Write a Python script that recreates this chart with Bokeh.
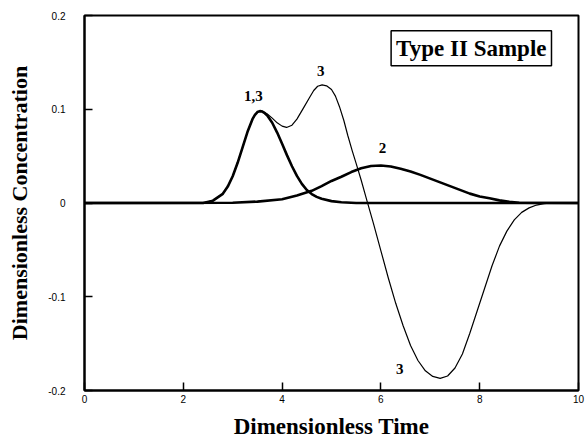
from bokeh.plotting import figure
from bokeh.models import FixedTicker, Label, ColumnDataSource
from bokeh.core.properties import value
from bokeh.embed import file_html
from bokeh.resources import INLINE

# Curve 1 (thick)
c1_x = [0, 2.4, 2.6, 2.8, 2.9, 3.0, 3.1, 3.2, 3.3, 3.4, 3.45, 3.5, 3.55, 3.6, 3.65, 3.7, 3.8, 3.9, 4.0,
        4.1, 4.2, 4.3, 4.4, 4.5, 4.6, 4.7, 4.8, 5.0, 5.2, 5.5, 10]
c1_y = [0, 0, 0.0025, 0.0098, 0.0175, 0.0285, 0.0429, 0.0594, 0.0759, 0.0894, 0.0940, 0.0970, 0.0980,
        0.0975, 0.0958, 0.0933, 0.0856, 0.0751, 0.0632, 0.0508, 0.0392, 0.0289, 0.0204, 0.0138, 0.0095,
        0.0065, 0.0045, 0.0020, 0.0008, 0, 0]

# Curve 2 (thick)
c2_x = [0, 3.0, 3.5, 4.0, 4.3, 4.6, 4.8, 5.0, 5.2, 5.4, 5.6, 5.8, 6.0, 6.2, 6.4, 6.6, 6.8, 7.0, 7.2,
        7.4, 7.6, 7.8, 8.0, 8.2, 8.4, 8.6, 8.8, 10]
c2_y = [0, 0.0003, 0.0015, 0.004, 0.008, 0.013, 0.018, 0.0235, 0.028, 0.033, 0.037, 0.0395, 0.040,
        0.039, 0.0365, 0.0335, 0.030, 0.026, 0.022, 0.018, 0.014, 0.010, 0.0070, 0.0050, 0.0028,
        0.0012, 0.0003, 0]

# Curve 3 (thin)
c3_x = [0, 2.4, 2.6, 2.8, 2.9, 3.0, 3.1, 3.2, 3.3, 3.4, 3.45, 3.5, 3.55, 3.6, 3.7, 3.8, 3.9, 4.0, 4.09,
        4.2, 4.3, 4.44, 4.55, 4.64, 4.72, 4.81, 4.9, 5.0, 5.08, 5.16, 5.25, 5.33, 5.42, 5.5, 5.6, 5.72,
        5.85, 6.0, 6.15, 6.3, 6.45, 6.6, 6.75, 6.9, 7.05, 7.2, 7.35, 7.5, 7.65, 7.8, 7.95, 8.1, 8.25,
        8.4, 8.55, 8.7, 8.85, 9.0, 9.15, 9.3, 9.45, 10]
c3_y = [0, 0, 0.0025, 0.0098, 0.0175, 0.0285, 0.0429, 0.0594, 0.0759, 0.0894, 0.0940, 0.0970, 0.0980,
        0.0978, 0.0950, 0.0905, 0.0855, 0.0820, 0.0806, 0.0830, 0.0895, 0.1020, 0.1120, 0.1200, 0.1245,
        0.1260, 0.1250, 0.1210, 0.1140, 0.1030, 0.0880, 0.0720, 0.0556, 0.0420, 0.0245, 0.0020,
        -0.0220, -0.0510, -0.0800, -0.1070, -0.1310, -0.1520, -0.1680, -0.1790, -0.1850, -0.1870,
        -0.1845, -0.1760, -0.1610, -0.1390, -0.1150, -0.0910, -0.0670, -0.0460, -0.0300, -0.0180,
        -0.0100, -0.0052, -0.0022, -0.0006, 0, 0]

x_ticks = [0, 2, 4, 6, 8, 10]
y_ticks = [-0.2, -0.1, 0, 0.1, 0.2]
y_tick_labels = {-0.2: "-0.2", -0.1: "-0.1", 0: "0", 0.1: "0.1", 0.2: "0.2"}

curve_labels = ["1,3", "3", "2", "3"]
curve_label_x = [3.42, 4.78, 6.03, 6.38]
curve_label_y = [0.114, 0.141, 0.059, -0.177]

p = figure(width=585, height=443, x_range=(0, 10), y_range=(-0.2, 0.2),
           output_backend="svg", toolbar_location=None,
           min_border_left=84, min_border_right=7, min_border_top=15, min_border_bottom=53)
p.background_fill_color = "white"
p.border_fill_color = "white"
p.grid.visible = False
p.outline_line_color = "black"
p.outline_line_width = 2

p.line(c2_x, c2_y, line_color="black", line_width=2.6, line_join="round")
p.line(c1_x, c1_y, line_color="black", line_width=2.6, line_join="round")
p.line(c3_x, c3_y, line_color="black", line_width=1.2, line_join="round")

src = ColumnDataSource(dict(x=curve_label_x, y=curve_label_y, t=curve_labels))
p.text(x="x", y="y", text="t", source=src, text_font=value("Liberation Serif"),
       text_font_style="bold", text_font_size="15px", text_align="center",
       text_baseline="middle", text_color="black")

box = Label(x=7.83, y=0.165, text="Type II Sample", text_font="Liberation Serif",
            text_font_style="bold", text_font_size="23px", text_align="center",
            text_baseline="middle", text_color="black",
            border_line_color="black", border_line_width=1.5,
            background_fill_color="white", padding=5)
p.add_layout(box)

for ax in (p.xaxis[0], p.yaxis[0]):
    ax.axis_line_color = "black"
    ax.axis_line_width = 2
    ax.major_tick_line_color = "black"
    ax.major_tick_line_width = 1.5
    ax.major_tick_in = 8
    ax.major_tick_out = 0
    ax.minor_tick_line_color = None
    ax.major_label_text_font = "Liberation Sans"
    ax.major_label_text_font_size = "10px"
    ax.major_label_text_color = "black"
    ax.axis_label_text_font = "Liberation Serif"
    ax.axis_label_text_font_style = "bold"
    ax.axis_label_text_color = "black"

p.xaxis.ticker = FixedTicker(ticks=x_ticks)
p.yaxis.ticker = FixedTicker(ticks=y_ticks)
p.yaxis.major_label_overrides = y_tick_labels
p.xaxis.major_label_standoff = 4
p.yaxis.major_label_standoff = 19
p.xaxis.axis_label = "Dimensionless Time"
p.yaxis.axis_label = "Dimensionless Concentration"
p.xaxis.axis_label_text_font_size = "23px"
p.yaxis.axis_label_text_font_size = "22px"
p.xaxis.axis_label_standoff = 8
p.yaxis.axis_label_standoff = 13

open("out.html", "w").write(file_html(p, INLINE))
